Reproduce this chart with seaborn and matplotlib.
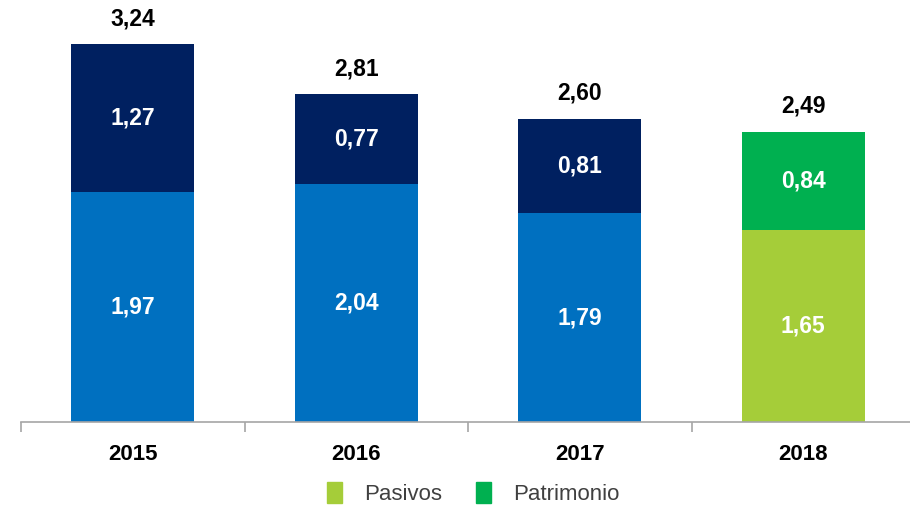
import matplotlib
matplotlib.use("Agg")
import matplotlib.pyplot as plt
from matplotlib.patches import Patch
import seaborn as sns
import pandas as pd

years = ["2015", "2016", "2017", "2018"]
pasivos = [1.97, 2.04, 1.79, 1.65]
patrimonio = [1.27, 0.77, 0.81, 0.84]
totals = [3.24, 2.81, 2.60, 2.49]

bottom_colors = ["#0070C0", "#0070C0", "#0070C0", "#A5CD39"]
top_colors = ["#002060", "#002060", "#002060", "#00B050"]


def fmt(v):
    return f"{v:.2f}".replace(".", ",")


def main():
    sns.set_style("white")
    plt.rcParams["font.family"] = ["Liberation Sans", "DejaVu Sans"]

    df = pd.DataFrame({"year": years, "Pasivos": pasivos,
                       "Patrimonio": patrimonio, "Total": totals})

    fig = plt.figure(figsize=(9.1, 5.09), dpi=100)
    ax = fig.add_axes([21 / 910, 87 / 509, 894 / 910, 422 / 509])

    # stack: draw totals first, pasivos over them
    sns.barplot(data=df, x="year", y="Total", hue="year", palette=top_colors,
                width=0.55, legend=False, ax=ax, saturation=1, linewidth=0)
    sns.barplot(data=df, x="year", y="Pasivos", hue="year", palette=bottom_colors,
                width=0.55, legend=False, ax=ax, saturation=1, linewidth=0)

    for i in range(len(years)):
        ax.text(i, pasivos[i] / 2, fmt(pasivos[i]), ha="center", va="center",
                color="white", fontsize=16.5, fontweight="bold")
        ax.text(i, pasivos[i] + patrimonio[i] / 2, fmt(patrimonio[i]), ha="center",
                va="center", color="white", fontsize=16.5, fontweight="bold")
        ax.text(i, totals[i] + 0.22, fmt(totals[i]), ha="center", va="center",
                color="black", fontsize=16.5, fontweight="bold")

    ax.set_xlim(-0.5, 3.5)
    ax.set_ylim(0, 3.62)
    ax.set_xlabel("")
    ax.set_ylabel("")
    ax.set_yticks([])
    for s in ["left", "top", "right"]:
        ax.spines[s].set_visible(False)
    ax.spines["bottom"].set_color("#A6A6A6")
    ax.spines["bottom"].set_linewidth(1.2)

    ax.set_xticks([-0.5, 0.5, 1.5, 2.5, 3.5], minor=True)
    ax.tick_params(axis="x", which="minor", length=7, width=1.2,
                   color="#A6A6A6", direction="out", bottom=True)
    ax.tick_params(axis="x", which="major", length=0, pad=16)
    for lab in ax.get_xticklabels():
        lab.set_fontsize(16)
        lab.set_fontweight("bold")
        lab.set_color("black")

    handles = [Patch(color=bottom_colors[3], label="Pasivos"),
               Patch(color=top_colors[3], label="Patrimonio")]
    leg = fig.legend(handles=handles, loc="center", bbox_to_anchor=(0.52, 0.03),
                     ncol=2, frameon=False, fontsize=16, handlelength=0.7,
                     handleheight=1.1, columnspacing=1.5, handletextpad=1.0)
    for t in leg.get_texts():
        t.set_color("#404040")

    fig.savefig("out.png", dpi=100)


if __name__ == "__main__":
    main()
